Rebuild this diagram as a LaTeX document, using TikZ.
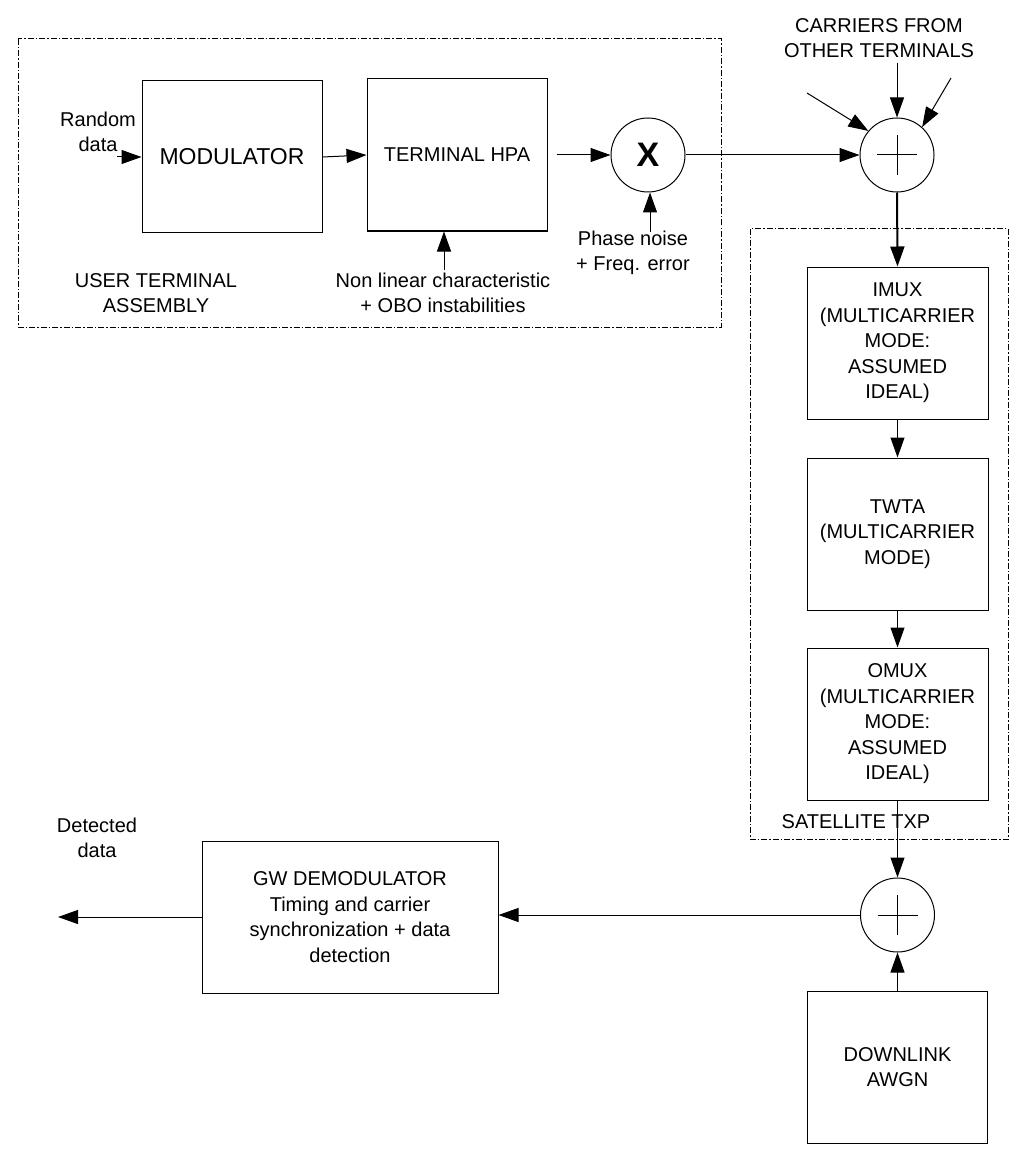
\documentclass[tikz,border=0pt]{standalone}
\usepackage{fontspec}
\setmainfont{Liberation Sans}
\usetikzlibrary{arrows.meta}
\begin{document}
\begin{tikzpicture}[x=1pt,y=-1pt,
  txt/.style={font=\fontsize{20}{25.5}\selectfont, align=center, inner sep=0pt},
  blk/.style={draw, line width=1pt, minimum width=181pt, minimum height=152pt, txt},
  sumnode/.style={draw, circle, line width=1pt, minimum size=74pt, inner sep=0pt},
  tip/.tip={Triangle[length=20pt 0 0,width=14pt 0 0]},
  arr/.style={line width=1pt, -tip},
  thickarr/.style={line width=2pt, -tip},
  dashdotbox/.style={line width=1pt, dash pattern=on 6pt off 2pt on 1.5pt off 2pt}
]
\useasboundingbox (0,0) rectangle (1033,1158);

% group frames
\draw[dashdotbox] (18,39) rectangle (721,327);
\draw[dashdotbox] (750,229) rectangle (1008,839);

% blocks
\node[blk, minimum width=180pt, font=\fontsize{23}{27}\selectfont] (MOD) at (232,157) {MODULATOR};
\node[blk, minimum width=180pt] (HPA) at (457,155) {TERMINAL HPA};
\draw[line width=2pt] (HPA.south west) -- (HPA.south east);

\node[sumnode] (MIX) at (648,155) {\fontsize{34}{34}\selectfont\bfseries X};
\node[sumnode] (S1) at (897,155) {};
\draw[line width=1pt] ([xshift=-20pt]S1.center) -- ([xshift=20pt]S1.center)
                        ([yshift=-20pt]S1.center) -- ([yshift=20pt]S1.center);

\node[blk] (IMUX) at (897.5,343) {IMUX\\(MULTICARRIER\\MODE:\\ASSUMED\\IDEAL)};
\node[blk] (TWTA) at (897.5,534) {TWTA\\(MULTICARRIER\\MODE)};
\node[blk] (OMUX) at (897.5,724) {OMUX\\(MULTICARRIER\\MODE:\\ASSUMED\\IDEAL)};

\node[sumnode] (S2) at (897.5,915) {};
\draw[line width=1pt] ([xshift=-20pt]S2.center) -- ([xshift=20pt]S2.center)
                        ([yshift=-20pt]S2.center) -- ([yshift=20pt]S2.center);

\node[blk, minimum width=180pt] (DL) at (897.5,1067) {DOWNLINK\\AWGN};
\node[blk, minimum width=296pt] (GW) at (350,917) {GW DEMODULATOR\\Timing and carrier\\synchronization + data\\detection};

% labels
\node[txt] (RD) at (98,132) {Random\\data};
\node[txt] (UTA) at (156,293) {USER TERMINAL\\ASSEMBLY};
\node[txt] (NL) at (443,293) {Non linear characteristic\\+ OBO instabilities};
\node[txt] (PN) at (633,253) {Phase noise\\+ Freq. error};
\node[txt] (CAR) at (879,38) {CARRIERS FROM\\OTHER TERMINALS};
\node[txt] (SAT) at (856,822) {SATELLITE TXP};
\node[txt] (DD) at (97,838) {Detected\\data};

% free ends
\coordinate (rdin) at (117,157);
\coordinate (nltop) at (444,270);
\coordinate (pntop) at (650,232);
\coordinate (cv) at (897,63);
\coordinate (cl) at (807,93);
\coordinate (cr) at (951,78);
\coordinate (out) at (58,917);

% connectors
\draw[arr] (rdin) -- (rdin -| MOD.west);
\draw[arr] (MOD.east) -- (HPA.west);
\draw[arr] (nltop) -- (nltop |- HPA.south);
\draw[arr] ([xshift=9pt]HPA.east) -- (MIX.west);
\draw[arr] (pntop) -- (pntop |- MIX.south);
\draw[arr] (MIX.east) -- (S1.west);
\draw[arr] (cv) -- (S1.north);
\draw[arr] (cl) -- (S1.140);
\draw[arr] (cr) -- (S1.48);
\draw[thickarr] (S1.south) -- (IMUX.north);
\draw[arr] (IMUX.south) -- (TWTA.north);
\draw[arr] (TWTA.south) -- (OMUX.north);
\draw[arr] (OMUX.south) -- (S2.north);
\draw[arr] (DL.north) -- (S2.south);
\draw[arr] (S2.west) -- (S2.west -| GW.east);
\draw[arr] (GW.west) -- (GW.west -| out);
\end{tikzpicture}
\end{document}
